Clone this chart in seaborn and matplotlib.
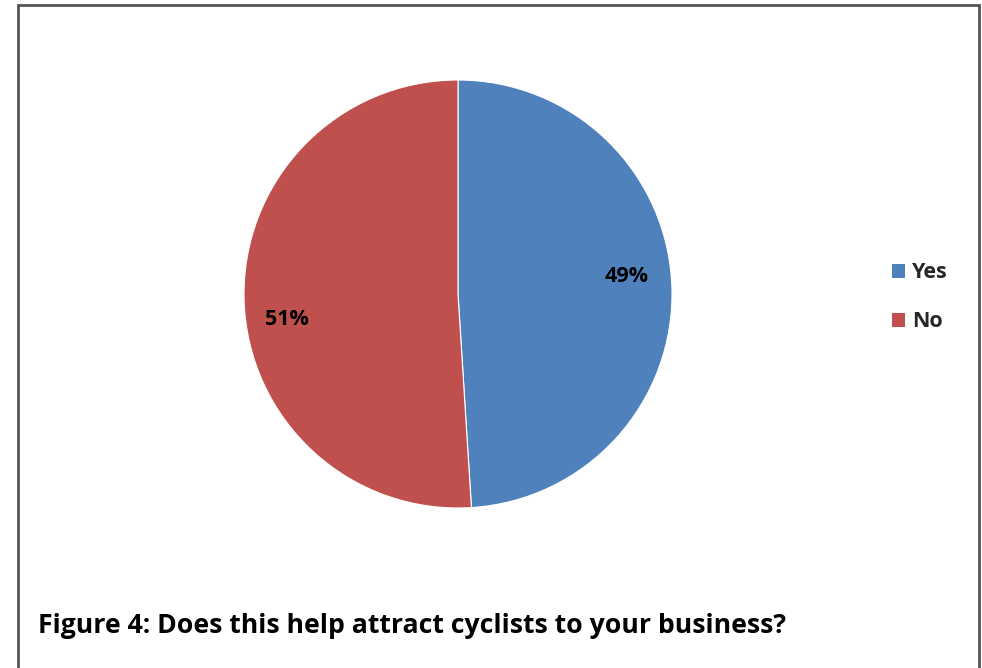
import matplotlib
matplotlib.use("Agg")
import matplotlib.pyplot as plt
import matplotlib.patches as mpatches
import seaborn as sns

categories = ["Yes", "No"]
values = [49, 51]
colors = ["#4F81BD", "#C0504D"]
title = "Figure 4: Does this help attract cyclists to your business?"

sns.set_theme(style="white")
plt.rcParams["font.family"] = ["Open Sans", "DejaVu Sans"]

W, H = 982, 668
fig = plt.figure(figsize=(W / 100, H / 100), dpi=100)
fig.patch.set_facecolor("white")

# pie axes: center (458,294) px, radius 214 px
cx, cy, r = 458, 294, 214
ax = fig.add_axes([(cx - r) / W, (H - cy - r) / H, 2 * r / W, 2 * r / H])
wedges, texts, autotexts = ax.pie(
    values, colors=colors, startangle=90, counterclock=False,
    autopct=lambda p: f"{p:.0f}%", pctdistance=0.79,
    wedgeprops=dict(edgecolor="white", linewidth=0.8),
    textprops=dict(fontsize=15.5, fontweight="bold", color="black"),
)
label_pos = [(0.79, 0.084), (-0.80, -0.117)]
for t, pos in zip(autotexts, label_pos):
    t.set_position(pos)
ax.set_xlim(-1, 1)
ax.set_ylim(-1, 1)
ax.set_aspect("auto")
ax.axis("off")

handles = [mpatches.Patch(facecolor=c, edgecolor="none") for c in colors]
leg = fig.legend(handles, categories, loc="upper left",
                 bbox_to_anchor=(873 / W, 1 - 243 / H), frameon=False,
                 prop=dict(size=15.5, weight="bold"),
                 handlelength=0.6, handleheight=0.6, handletextpad=0.3,
                 labelspacing=1.3)

fig.text(38 / W, 1 - 633 / H, title, fontsize=19.2, fontweight="bold",
         ha="left", va="baseline", color="black")

frame = mpatches.Rectangle((18 / W, -0.05), (979 - 18) / W, (H - 5) / H + 0.05,
                           transform=fig.transFigure, fill=False,
                           edgecolor="#555555", linewidth=2, clip_on=False)
fig.patches.append(frame)

fig.savefig("out.png", dpi=100, facecolor="white")
